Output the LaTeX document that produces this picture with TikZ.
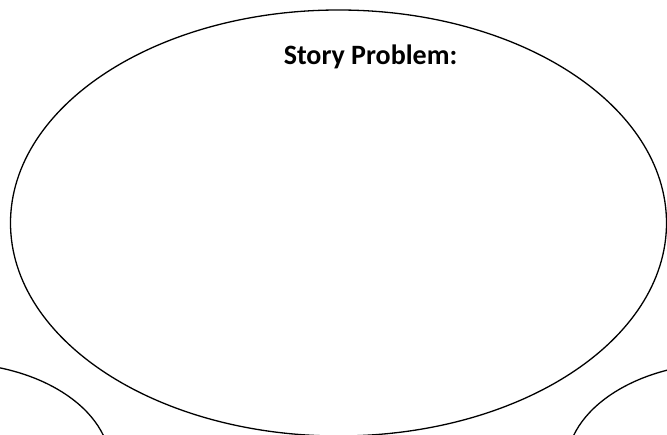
\documentclass[tikz,border=0pt]{standalone}
\usepackage{fontspec}
\setmainfont{Carlito}
\usetikzlibrary{shapes.geometric}
\begin{document}
\begin{tikzpicture}[x=1pt, y=1pt, line width=1.3pt,
    oval/.style={draw, ellipse, inner sep=0pt},
    title/.style={font=\bfseries\fontsize{28}{33}\selectfont, inner sep=0pt, anchor=base}]
    \useasboundingbox (0,0) rectangle (667,-435);
    \clip (0,0) rectangle (667,-435);

    \node[oval, minimum width=656, minimum height=426] (story) at (338.5,-223) {};
    \node[oval, minimum width=318, minimum height=206] (left) at (-48.5,-466) {};
    \node[oval, minimum width=318, minimum height=206] (right) at (725.5,-466) {};

    \node[title] (heading) at (370.5,-65) {Story Problem:};
  \end{tikzpicture}
\end{document}
